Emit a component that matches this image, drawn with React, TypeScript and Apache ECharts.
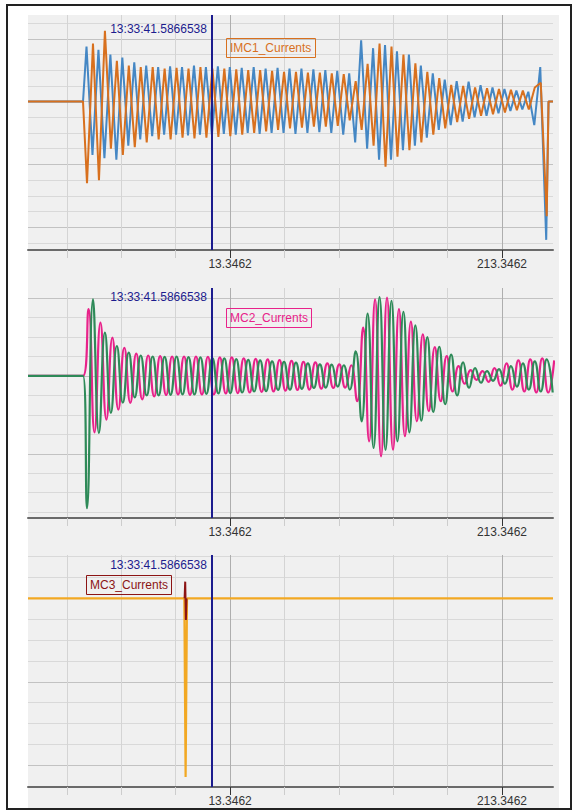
import React, { useEffect, useRef } from "react";
import * as echarts from "echarts";

// ---------- axis / tick data ----------
const X_MIN = -135.33;
const X_MAX = 250.88;
const X_GRID = [-106.6538, -66.6538, -26.6538, 13.3462, 53.3462, 93.3462, 133.3462, 173.3462, 213.3462];
const X_LABELS = [13.3462, 213.3462];

const CURSOR_T = 0;
const CURSOR_TEXT = "13:33:41.5866538";

const P1_RANGE = [-9.446, 5.512];
const P2_RANGE = [-7.3, 4.52];
const P3_RANGE = [-9.036, 2.077];
const P1_MINOR = [-9, -8, -7, -6, -5, -4, -3, -2, -1, 0, 1, 2, 3, 4, 5];
const P1_MAJOR = [-8, -4, 0, 4];
const P2_MINOR = [-7, -6, -5, -4, -3, -2, -1, 0, 1, 2, 3, 4];
const P2_MAJOR = [-4, 0, 4];
const P3_MINOR = [-8, -7, -6, -5, -4, -3, -2, -1, 0, 1, 2];
const P3_MAJOR = [-8, -4, 0];

// ---------- sampled signals (one sample per half period) ----------
const ONSET = -94.86;
const IMC1_RETURN = 247.6;
const STEP = 4.392;
const BLUE_T0 = -92.29;
const ORANGE_T0 = -91.92;
const PINK_T0 = -90.82;
const GREEN_T0 = -91.92;

const IMC1_BLUE = [
  3.5, -3.4, 3.3, -3.6, 3.0, -3.7, 2.8, -2.8, 2.5, -2.4,
  2.3, -2.2, 2.2, -2.1, 2.25, -2.1, 2.2, -2.15, 2.3, -2.1,
  2.2, -2.1, 2.25, -2.05, 2.2, -2.1, 2.15, -2.0, 2.2, -2.05,
  2.1, -2.0, 2.15, -2.0, 2.1, -2.05, 2.1, -2.0, 2.05, -1.95,
  2.0, -2.0, 1.95, -2.1, 1.8, -2.6, 3.9, -3.0, 3.4, -3.7,
  3.6, -3.7, 3.2, -3.1, 3.0, -2.8, 2.3, -2.3, 1.8, -1.8,
  1.4, -1.5, 1.3, -1.28, 1.27, -1.0, 1.05, -0.9, 0.9, -0.75,
  0.8, -0.6, 0.7, -0.5, 0.63, -1.5, 2.2, -8.8,
];
const IMC1_ORANGE = [
  -5.2, 3.7, -5.0, 4.5, -3.0, 2.6, -3.4, 2.3, -2.9, 2.2,
  -2.6, 2.2, -2.4, 2.1, -2.4, 2.15, -2.3, 2.1, -2.35, 2.2,
  -2.3, 2.1, -2.25, 2.1, -2.2, 2.05, -2.1, 2.0, -2.0, 2.0,
  -1.9, 1.95, -1.8, 1.9, -1.7, 1.9, -1.65, 1.85, -1.6, 1.85,
  -1.6, 1.8, -1.55, 1.75, -1.2, 1.3, -1.8, 2.4, -2.8, 3.7,
  -4.14, 3.5, -3.5, 3.0, -3.1, 2.44, -2.6, 1.9, -2.1, 1.5,
  -1.7, 1.06, -1.3, 1.0, -1.1, 0.9, -0.9, 0.85, -0.8, 0.8,
  -0.7, 0.75, -0.55, 0.7, -0.5, 0.9, 1.2, -7.3,
];
const MC2_PINK = [
  3.43, -2.9, 2.74, -2.24, 1.97, -1.73, 1.45, -1.38, 1.15, -1.2,
  1.05, -1.05, 1.02, -0.98, 1.0, -0.95, 1.0, -0.97, 1.0, -0.95,
  0.98, -0.95, 0.95, -0.9, 0.95, -0.88, 0.9, -0.85, 0.88, -0.82,
  0.85, -0.8, 0.82, -0.75, 0.78, -0.72, 0.72, -0.7, 0.7, -0.65,
  0.65, -0.62, 0.6, -0.6, 0.55, -1.3, 2.48, -3.36, 3.94, -4.13,
  4.03, -3.79, 3.43, -3.1, 2.79, -2.33, 2.14, -1.81, 1.48, -1.3,
  1.02, -0.8, 0.5, -0.4, 0.3, -0.2, 0.25, -0.3, 0.4, -0.5,
  0.65, -0.7, 0.8, -0.8, 0.85, -0.85, 0.9, -0.85, 0.8,
];
const MC2_GREEN = [
  -6.8, 3.94, -2.93, 2.23, -1.9, 1.54, -1.37, 1.2, -1.1, 1.05,
  -1.0, 1.0, -1.0, 0.98, -0.97, 1.0, -0.95, 0.97, -0.95, 0.95,
  -0.92, 0.92, -0.9, 0.9, -0.88, 0.86, -0.85, 0.83, -0.8, 0.8,
  -0.78, 0.75, -0.72, 0.72, -0.7, 0.68, -0.66, 0.65, -0.62, 0.6,
  -0.6, 0.58, -0.55, 0.55, -0.7, 1.26, -2.33, 3.2, -3.7, 4.05,
  -3.8, 3.86, -3.36, 3.3, -2.9, 2.6, -2.3, 2.0, -1.85, 1.5,
  -1.45, 1.1, -1.0, 0.7, -0.6, 0.4, -0.35, 0.25, -0.25, 0.35,
  -0.4, 0.5, -0.55, 0.65, -0.7, 0.75, -0.8, 0.85, -0.85,
];
const MC3_YELLOW_T = [X_MIN, -20.34, -19.39, -18.36, X_MAX];
const MC3_YELLOW = [0, 0, -8.56, 0, 0];
const MC3_RED_T = [-20.12, -19.68, -19.17, -18.73];
const MC3_RED = [0, 0.8, -1.04, 0];

// ---------- styles ----------
const FONT = "'Liberation Sans', Arial, sans-serif";
const C_BLUE = "#4587c4";
const C_ORANGE = "#d8701e";
const C_PINK = "#e8228a";
const C_GREEN = "#2e8a58";
const C_YELLOW = "#f2a823";
const C_RED = "#8c1414";
const C_NAVY = "#1c1c8e";

function sampled(t0: number, vals: number[], endT?: number) {
  const pts: number[][] = [[X_MIN, 0], [ONSET, 0]];
  vals.forEach((v, i) => pts.push([t0 + i * STEP, v]));
  if (endT !== undefined) {
    pts.push([endT, 0]);
    pts.push([X_MAX, 0]);
  }
  return pts;
}
function paired(ts: number[], vs: number[]) {
  return ts.map((t, i) => [t, vs[i]]);
}

export default function App() {
  const ref = useRef<HTMLDivElement>(null);
  useEffect(() => {
    document.body.style.margin = "0";
    const chart = echarts.init(ref.current!, null, { renderer: "svg" });

    const grids = [
      { left: 28, right: 21, top: 15, height: 235 },
      { left: 28, right: 21, top: 288, height: 230 },
      { left: 28, right: 21, top: 555, height: 232 },
    ];
    const ranges = [P1_RANGE, P2_RANGE, P3_RANGE];
    const minors = [P1_MINOR, P2_MINOR, P3_MINOR];
    const majors = [P1_MAJOR, P2_MAJOR, P3_MAJOR];
    const labelY = [4.65, 4.06, 1.6];

    const xAxis: any[] = [];
    const yAxis: any[] = [];
    grids.forEach((_, g) => {
      xAxis.push({
        type: "value", gridIndex: g, min: X_MIN, max: X_MAX, position: "bottom",
        axisLine: { show: false, onZero: false },
        axisTick: { show: true, customValues: X_GRID, length: 8, lineStyle: { color: "#cdcdcd" } },
        axisLabel: { show: false, customValues: X_GRID },
        splitLine: { show: true, lineStyle: { color: "#d4d4d4", width: 1 } },
      });
      xAxis.push({
        type: "value", gridIndex: g, min: X_MIN, max: X_MAX, position: "bottom",
        axisLine: { show: true, onZero: false, lineStyle: { color: "#6a6a6a", width: 2 } },
        axisTick: { show: true, customValues: X_LABELS, length: 8, lineStyle: { color: "#333", width: 1 } },
        axisLabel: {
          show: true, customValues: X_LABELS, formatter: (v: number) => v.toFixed(4),
          color: "#333", fontSize: 12, margin: 8, fontFamily: FONT,
        },
        splitLine: { show: true, lineStyle: { color: "#aeaeae", width: 1 } },
      });
      yAxis.push({
        type: "value", gridIndex: g, min: ranges[g][0], max: ranges[g][1], position: "left",
        axisLine: { show: false, onZero: false },
        axisTick: { show: false, customValues: minors[g] },
        axisLabel: { show: false, customValues: minors[g] },
        splitLine: { show: true, lineStyle: { color: "#d9d9d9", width: 1 } },
      });
      yAxis.push({
        type: "value", gridIndex: g, min: ranges[g][0], max: ranges[g][1], position: "left",
        axisLine: { show: false, onZero: false },
        axisTick: { show: false, customValues: majors[g] },
        axisLabel: { show: false, customValues: majors[g] },
        splitLine: { show: true, lineStyle: { color: "#c2c2c2", width: 1 } },
      });
    });

    const cursor = (g: number) => ({
      markLine: {
        silent: true, symbol: ["none", "none"], animation: false,
        label: { show: false },
        lineStyle: { color: C_NAVY, width: 2, type: "solid" },
        data: [{ xAxis: CURSOR_T }],
      },
      markPoint: {
        silent: true, symbol: "circle", symbolSize: 0, animation: false,
        label: {
          show: true, position: "left", distance: 5, formatter: CURSOR_TEXT,
          color: C_NAVY, fontSize: 12, fontFamily: FONT,
        },
        data: [{ coord: [CURSOR_T, labelY[g]] }],
      },
    });

    const line = (name: string, g: number, data: number[][], color: string, width: number, smooth: any, extra: any = {}) => ({
      name, type: "line", xAxisIndex: g * 2, yAxisIndex: g * 2, data, silent: true,
      showSymbol: false, symbol: "none", smooth, clip: true,
      lineStyle: { color, width }, itemStyle: { color },
      ...extra,
    });

    const legendBox = (text: string, left: number, top: number, color: string) => ({
      text, left, top, padding: [3, 4], borderColor: color, borderWidth: 1,
      textStyle: { color, fontSize: 12, fontWeight: "normal", fontFamily: FONT, lineHeight: 14 },
    });

    chart.setOption({
      animation: false,
      textStyle: { fontFamily: FONT },
      title: [
        legendBox("IMC1_Currents", 226, 38, C_ORANGE),
        legendBox("MC2_Currents", 226, 308, C_PINK),
        legendBox("MC3_Currents", 86, 575, C_RED),
      ],
      graphic: [
        { type: "rect", z: -10, silent: true, shape: { x: 28, y: 15, width: 531, height: 793 }, style: { fill: "#f0f0f0" } },
        { type: "rect", z: 100, silent: true, shape: { x: 7, y: 5, width: 564, height: 804 }, style: { fill: "none", stroke: "#222", lineWidth: 2 } },
      ],
      grid: grids.map((gr) => ({ ...gr, outerBoundsMode: "none" })),
      xAxis,
      yAxis,
      series: [
        line("IMC1_Currents A", 0, sampled(BLUE_T0, IMC1_BLUE, IMC1_RETURN), C_BLUE, 2, false),
        line("IMC1_Currents B", 0, sampled(ORANGE_T0, IMC1_ORANGE, IMC1_RETURN), C_ORANGE, 2, false, cursor(0)),
        line("MC2_Currents A", 1, sampled(PINK_T0, MC2_PINK), C_PINK, 2.2, 0.5),
        line("MC2_Currents B", 1, sampled(GREEN_T0, MC2_GREEN), C_GREEN, 2.2, 0.5, cursor(1)),
        line("MC3_Currents A", 2, paired(MC3_YELLOW_T, MC3_YELLOW), C_YELLOW, 2.2, false, cursor(2)),
        line("MC3_Currents B", 2, paired(MC3_RED_T, MC3_RED), C_RED, 2, false),
      ],
    });
    return () => chart.dispose();
  }, []);
  return <div ref={ref} style={{ width: 574, height: 811 }} />;
}
